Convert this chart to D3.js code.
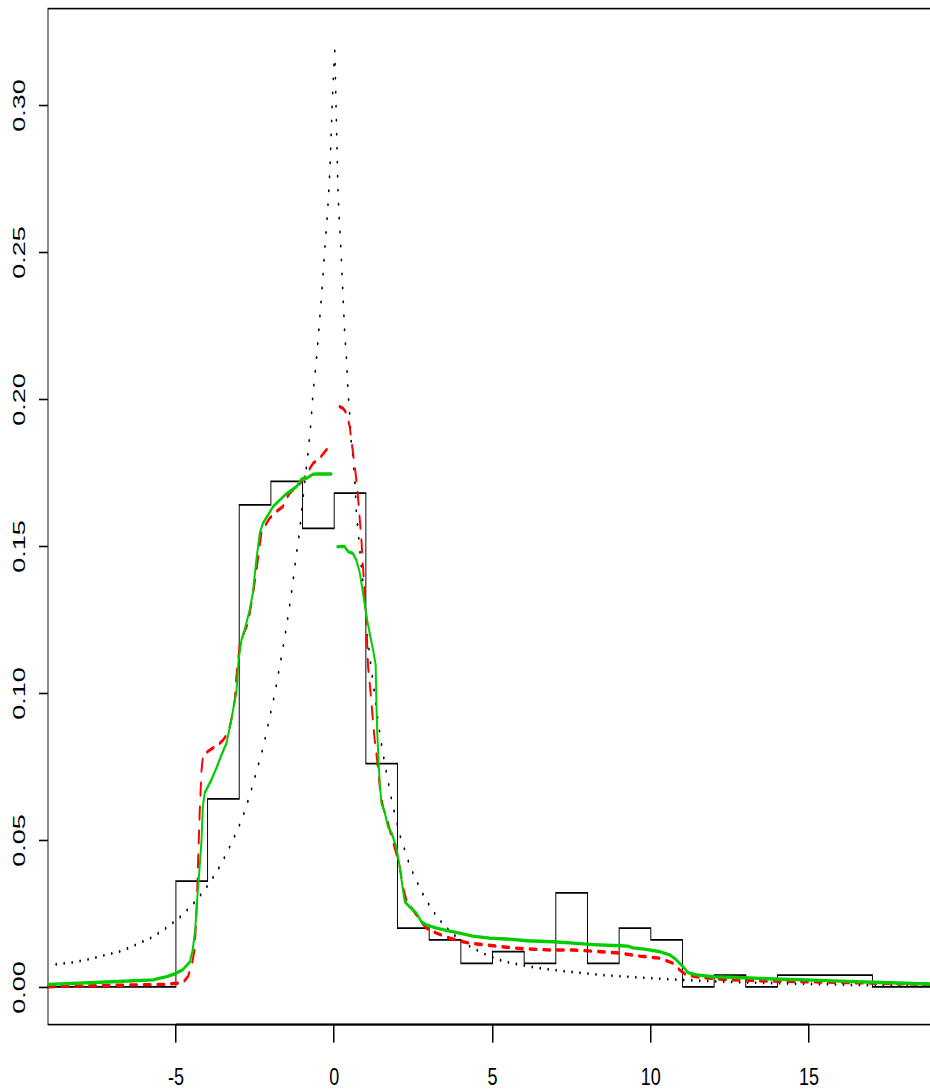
<!DOCTYPE html>
<html>
<head>
<meta charset="utf-8">
<script src="https://cdn.jsdelivr.net/npm/d3@7"></script>
<style>
  body { margin: 0; background: #fff; }
  svg { display: block; font-family: "Liberation Sans", Arial, Helvetica, sans-serif; }
</style>
</head>
<body>
<div id="chart"></div>
<script>
// histogram of the sample (bins of width 1 starting at -5)
const histBreaks = [-5, -4, -3, -2, -1, 0, 1, 2, 3, 4, 5, 6, 7, 8, 9, 10, 11, 12, 13, 14, 15, 16, 17];
const histDensity = [0.036, 0.064, 0.164, 0.172, 0.156, 0.168, 0.076, 0.020, 0.016, 0.008, 0.012,
  0.008, 0.032, 0.008, 0.020, 0.016, 0, 0.004, 0, 0.004, 0.004, 0.004];

// dotted reference density
const dottedCurve = [
  [-8.78, 0.0077], [-8.25, 0.0084], [-7.72, 0.0095], [-7.22, 0.0109], [-6.70, 0.0123], [-6.21, 0.0146],
  [-5.73, 0.0170], [-5.26, 0.0204], [-4.79, 0.0245], [-4.34, 0.0296], [-3.93, 0.0354], [-3.55, 0.0422],
  [-3.24, 0.0490], [-2.92, 0.0568], [-2.67, 0.0650], [-2.45, 0.0735], [-2.23, 0.0820], [-2.05, 0.0911],
  [-1.87, 0.1001], [-1.72, 0.1092], [-1.57, 0.1183], [-1.44, 0.1273], [-1.32, 0.1365], [-1.21, 0.1459],
  [-1.09, 0.1552], [-1.00, 0.1647], [-0.91, 0.1739], [-0.81, 0.1833], [-0.73, 0.1926], [-0.67, 0.2020],
  [-0.62, 0.2067], [-0.54, 0.2161], [-0.47, 0.2255], [-0.40, 0.2350], [-0.34, 0.2443], [-0.28, 0.2537],
  [-0.21, 0.2633], [-0.16, 0.2727], [-0.12, 0.2822], [-0.09, 0.2917], [-0.06, 0.3013], [-0.02, 0.3108],
  [0.02, 0.3185], [0.04, 0.3083], [0.06, 0.2987], [0.08, 0.2892], [0.10, 0.2797], [0.12, 0.2702],
  [0.16, 0.2606], [0.21, 0.2513], [0.25, 0.2417], [0.29, 0.2323], [0.33, 0.2228], [0.39, 0.2133],
  [0.43, 0.2038], [0.49, 0.1946], [0.54, 0.1851], [0.59, 0.1804], [0.66, 0.1707], [0.70, 0.1613],
  [0.78, 0.1520], [0.87, 0.1418], [0.96, 0.1316], [1.05, 0.1194], [1.15, 0.1102], [1.26, 0.1008],
  [1.39, 0.0901], [1.50, 0.0820], [1.65, 0.0729], [1.81, 0.0639], [1.90, 0.0595], [2.10, 0.0507],
  [2.23, 0.0466], [2.35, 0.0425], [2.50, 0.0384], [2.66, 0.0347], [2.83, 0.0310], [3.01, 0.0277],
  [3.20, 0.0246], [3.40, 0.0219], [3.62, 0.0194], [3.86, 0.0170], [4.31, 0.0136], [4.81, 0.0109],
  [5.32, 0.0088], [5.83, 0.0076], [6.36, 0.0066], [6.86, 0.0059], [7.38, 0.0052], [7.88, 0.0047],
  [8.41, 0.0041], [8.91, 0.0037], [9.97, 0.0030], [10.97, 0.0024], [12.27, 0.0018], [13.85, 0.0013],
  [16.38, 0.0007], [18.80, 0.0003]
];

// red dashed estimate (two pieces, split at 0)
const redLeft = [
  [-9.04, 0.0001], [-5.30, 0.0009], [-4.78, 0.0015], [-4.62, 0.0035], [-4.51, 0.0069], [-4.41, 0.0126],
  [-4.35, 0.0252], [-4.30, 0.0422], [-4.25, 0.0592], [-4.19, 0.0738], [-4.14, 0.0789], [-3.93, 0.0806],
  [-3.67, 0.0823], [-3.51, 0.0840], [-3.35, 0.0864], [-3.25, 0.0908], [-3.14, 0.0976], [-3.09, 0.1055],
  [-2.98, 0.1170], [-2.72, 0.1238], [-2.56, 0.1340], [-2.44, 0.1430], [-2.30, 0.1544], [-2.20, 0.1566],
  [-2.04, 0.1594], [-1.83, 0.1617], [-1.62, 0.1634], [-1.51, 0.1662], [-1.41, 0.1679], [-1.19, 0.1702],
  [-0.99, 0.1724], [-0.83, 0.1753], [-0.67, 0.1781], [-0.46, 0.1798], [-0.25, 0.1827], [-0.09, 0.1840]
];
const redRight = [
  [0.17, 0.1974], [0.28, 0.1968], [0.39, 0.1952], [0.49, 0.1906], [0.57, 0.1838], [0.65, 0.1770],
  [0.70, 0.1724], [0.75, 0.1668], [0.81, 0.1588], [0.86, 0.1520], [0.91, 0.1430], [0.96, 0.1340],
  [1.02, 0.1248], [1.04, 0.1170], [1.07, 0.1089], [1.12, 0.1034], [1.17, 0.0976], [1.23, 0.0898],
  [1.28, 0.0840], [1.33, 0.0796], [1.38, 0.0749], [1.44, 0.0681], [1.54, 0.0613], [1.70, 0.0558],
  [1.81, 0.0511], [1.96, 0.0455], [2.07, 0.0409], [2.17, 0.0341], [2.28, 0.0296], [2.49, 0.0262],
  [2.70, 0.0228], [2.91, 0.0200], [3.23, 0.0183], [3.65, 0.0166], [4.07, 0.0154], [4.28, 0.0149],
  [4.81, 0.0143], [5.44, 0.0135], [5.96, 0.0130], [6.81, 0.0126], [7.54, 0.0126], [8.28, 0.0121],
  [9.02, 0.0115], [9.65, 0.0105], [10.28, 0.0098], [10.70, 0.0081], [10.91, 0.0058], [11.12, 0.0041],
  [11.55, 0.0033], [12.28, 0.0026], [13.34, 0.0021], [14.91, 0.0018], [17.02, 0.0013], [18.81, 0.0009]
];

// green solid estimate (two pieces, split at 0)
const greenLeft = [
  [-9.04, 0.0009], [-7.19, 0.0017], [-5.73, 0.0024], [-5.29, 0.0035], [-5.05, 0.0044], [-4.79, 0.0058],
  [-4.56, 0.0085], [-4.47, 0.0126], [-4.39, 0.0194], [-4.34, 0.0279], [-4.28, 0.0364], [-4.19, 0.0500],
  [-4.15, 0.0613], [-4.09, 0.0660], [-3.88, 0.0704], [-3.72, 0.0745], [-3.56, 0.0789], [-3.40, 0.0830],
  [-3.25, 0.0908], [-3.14, 0.0976], [-3.09, 0.1000], [-3.02, 0.1112], [-2.93, 0.1180], [-2.83, 0.1214],
  [-2.67, 0.1282], [-2.57, 0.1340], [-2.46, 0.1452], [-2.40, 0.1503], [-2.35, 0.1544], [-2.25, 0.1578],
  [-2.09, 0.1605], [-1.93, 0.1634], [-1.72, 0.1656], [-1.56, 0.1673], [-1.41, 0.1685], [-1.19, 0.1702],
  [-1.04, 0.1727], [-0.88, 0.1730], [-0.67, 0.1744], [-0.56, 0.1745], [-0.09, 0.1745]
];
const greenRight = [
  [0.10, 0.1498], [0.33, 0.1498], [0.44, 0.1481], [0.59, 0.1475], [0.70, 0.1452], [0.81, 0.1408],
  [0.91, 0.1340], [1.02, 0.1260], [1.12, 0.1204], [1.23, 0.1146], [1.31, 0.1095], [1.33, 0.0976],
  [1.36, 0.0864], [1.41, 0.0749], [1.44, 0.0694], [1.49, 0.0626], [1.60, 0.0592], [1.70, 0.0545],
  [1.81, 0.0524], [1.96, 0.0477], [2.07, 0.0409], [2.17, 0.0330], [2.23, 0.0290], [2.38, 0.0273],
  [2.60, 0.0251], [2.75, 0.0222], [2.91, 0.0211], [3.23, 0.0200], [3.65, 0.0190], [3.96, 0.0183],
  [4.38, 0.0173], [4.91, 0.0166], [5.65, 0.0162], [6.07, 0.0157], [6.91, 0.0154], [7.54, 0.0149],
  [8.17, 0.0144], [9.02, 0.0140], [9.28, 0.0139], [9.44, 0.0133], [9.86, 0.0128], [10.28, 0.0120],
  [10.60, 0.0109], [10.81, 0.0092], [11.02, 0.0069], [11.17, 0.0049], [11.44, 0.0041], [11.96, 0.0035],
  [12.81, 0.0032], [13.86, 0.0027], [14.91, 0.0024], [15.97, 0.0020], [17.02, 0.0016], [18.81, 0.0010]
];

const xTicks = [-5, 0, 5, 10, 15];
const yTicks = [0, 0.05, 0.10, 0.15, 0.20, 0.25, 0.30];

// the picture is squeezed sideways, so marks are drawn wide and then compressed
const K = 0.57;
const width = 930, height = 1090;
const xDomain = [-9.04, 19.04];

const svg = d3.select('#chart').append('svg')
  .attr('width', width)
  .attr('height', height);

const xs = d3.scaleLinear().domain(xDomain).range([48, 937]);
const xw = xs.copy().range([48 / K, 937 / K]);
const y = d3.scaleLinear().domain([-0.0128, 0.3328]).range([1024.6, 8.6]);

const plot = svg.append('g').attr('transform', `scale(${K},1)`);

// plot box
plot.append('rect')
  .attr('x', xw(xDomain[0]))
  .attr('y', y(0.3328))
  .attr('width', xw(xDomain[1]) - xw(xDomain[0]))
  .attr('height', y(-0.0128) - y(0.3328))
  .attr('fill', 'none')
  .attr('stroke', '#000')
  .attr('stroke-width', 1.6);

const line = d3.line().x(d => xw(d[0])).y(d => y(d[1]));

// histogram as a step outline
const histSteps = [[xDomain[0], 0]]
  .concat(histDensity.map((v, i) => [histBreaks[i], v]))
  .concat([[histBreaks[histBreaks.length - 1], 0], [xDomain[1], 0]]);

plot.append('path')
  .attr('d', line.curve(d3.curveStepAfter)(histSteps))
  .attr('fill', 'none')
  .attr('stroke', '#000')
  .attr('stroke-width', 1.7);

line.curve(d3.curveLinear);

plot.append('path')
  .attr('d', line(dottedCurve))
  .attr('fill', 'none')
  .attr('stroke', '#000')
  .attr('stroke-width', 3)
  .attr('stroke-linecap', 'round')
  .attr('stroke-dasharray', '0.01,14');

[redLeft, redRight].forEach(seg => {
  plot.append('path')
    .attr('d', line(seg))
    .attr('fill', 'none')
    .attr('stroke', '#ff0000')
    .attr('stroke-width', 3.4)
    .attr('stroke-linecap', 'round')
    .attr('stroke-linejoin', 'round')
    .attr('stroke-dasharray', '12,12');
});

[greenLeft, greenRight].forEach(seg => {
  plot.append('path')
    .attr('d', line(seg))
    .attr('fill', 'none')
    .attr('stroke', '#00cd00')
    .attr('stroke-width', 3.4)
    .attr('stroke-linecap', 'round')
    .attr('stroke-linejoin', 'round');
});

// x axis: line from first to last tick, ticks hanging below the box
const axisY = y(-0.0128);
const xAxis = svg.append('g').attr('class', 'x-axis');
xAxis.append('line')
  .attr('x1', xs(xTicks[0])).attr('x2', xs(xTicks[xTicks.length - 1]))
  .attr('y1', axisY).attr('y2', axisY)
  .attr('stroke', '#000').attr('stroke-width', 2);
xAxis.selectAll('.xtick')
  .data(xTicks)
  .enter().append('rect')
  .attr('class', 'xtick')
  .attr('x', d => Math.round(xs(d)) - 1)
  .attr('y', axisY)
  .attr('width', 1.5)
  .attr('height', 18)
  .attr('fill', '#000');
xAxis.selectAll('.xlabel')
  .data(xTicks)
  .enter().append('text')
  .attr('class', 'xlabel')
  .attr('text-anchor', 'middle')
  .attr('font-size', 24)
  .attr('fill', '#000')
  .attr('transform', d => `translate(${xs(d)},${axisY + 60}) scale(0.75,1)`)
  .text(d => String(d));

// y axis, labels turned to read upwards
const yAxis = svg.append('g')
  .attr('transform', 'translate(48,0)')
  .call(d3.axisLeft(y).tickValues(yTicks).tickSize(9).tickSizeOuter(0).tickFormat(d3.format('.2f')));
yAxis.select('.domain').remove();
yAxis.selectAll('.tick line')
  .attr('stroke', '#000')
  .attr('stroke-width', 1.6);
yAxis.selectAll('.tick text')
  .attr('x', 0)
  .attr('dy', null)
  .attr('text-anchor', 'middle')
  .attr('fill', '#000')
  .attr('font-size', 27)
  .attr('transform', 'translate(-23,0) scale(0.6,1) rotate(-90)');
</script>
</body>
</html>
